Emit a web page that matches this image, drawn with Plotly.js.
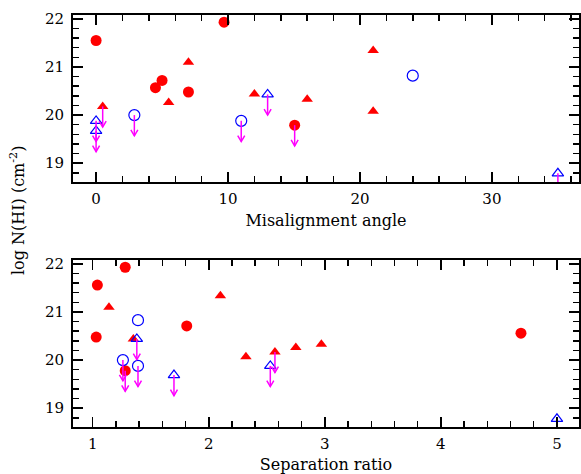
<!DOCTYPE html>
<html>
<head>
<meta charset="utf-8">
<script src="https://cdn.plot.ly/plotly-3.0.1.min.js"></script>
<style>html,body{margin:0;padding:0;background:#fff;}#chart{width:581px;height:474px;}</style>
</head>
<body>
<div id="chart"></div>
<script>
// ---- Top panel: Misalignment angle ----
const angRedCircX = [0, 4.5, 5.0, 7.0, 9.7, 15.05];
const angRedCircY = [21.55, 20.57, 20.72, 20.48, 21.93, 19.79];
const angRedCircLim = [0, 0, 0, 0, 0, 1];
const angRedTriX = [0.5, 5.5, 7.0, 12.0, 16.0, 21.0, 21.0];
const angRedTriY = [20.18, 20.26, 21.1, 20.44, 20.33, 21.34, 20.08];
const angRedTriLim = [1, 0, 0, 0, 0, 0, 0];
const angBlueCircX = [2.9, 11.0, 24.0];
const angBlueCircY = [20.0, 19.88, 20.82];
const angBlueCircLim = [1, 1, 0];
const angBlueTriX = [0, 0, 13.0, 35.0];
const angBlueTriY = [19.88, 19.67, 20.43, 18.79];
const angBlueTriLim = [1, 1, 1, 1];

// ---- Bottom panel: Separation ratio ----
const sepRedCircX = [1.04, 1.28, 1.03, 1.81, 1.28, 4.69];
const sepRedCircY = [21.56, 21.93, 20.48, 20.71, 19.78, 20.56];
const sepRedCircLim = [0, 0, 0, 0, 1, 0];
const sepRedTriX = [1.14, 1.35, 2.10, 2.32, 2.57, 2.75, 2.97];
const sepRedTriY = [21.1, 20.44, 21.34, 20.07, 20.17, 20.26, 20.33];
const sepRedTriLim = [0, 0, 0, 0, 1, 0, 0];
const sepBlueCircX = [1.26, 1.39, 1.39];
const sepBlueCircY = [20.0, 20.83, 19.88];
const sepBlueCircLim = [1, 0, 1];
const sepBlueTriX = [1.38, 1.70, 2.53, 5.0];
const sepBlueTriY = [20.44, 19.69, 19.88, 18.78];
const sepBlueTriLim = [1, 1, 1, 1];

const xTitleTop = 'Misalignment angle';
const xTitleBot = 'Separation ratio';
const yTitle = 'log N(HI) (cm<sup>-2</sup>)';

const FONT = 'DejaVu Serif';
const RED = '#ff0000', BLUE = '#0000ff', MAG = '#ff00ff';

// geometry
const W = 581, H = 474;
const M = {l: 73, r: 2, t: 15, b: 47};
const plotW = W - M.l - M.r, plotH = H - M.t - M.b;
const xRangeTop = [-1.75, 36.6];
const xRangeBot = [0.83, 5.19];
const yRange = [18.61, 22.08];
const domTop = [0.5947, 1];
const domBot = [0, 0.4053];

function pxPerUnitX(r) { return plotW / (r[1] - r[0]); }
function pxPerUnitY(r, d) { return plotH * (d[1] - d[0]) / (r[1] - r[0]); }

const ARROW_LEN = 0.43; // dex
function arrowTrace(groups, xr, xa, ya) {
  const sx = pxPerUnitX(xr), sy = pxPerUnitY(yRange, domTop);
  const hw = 3.5 / sx, hh = 6 / sy;
  const X = [], Y = [];
  groups.forEach(g => {
    g.x.forEach((x, i) => {
      if (!g.lim[i]) return;
      const y0 = g.y[i], y1 = y0 - ARROW_LEN;
      X.push(x, x, null, x - hw, x, x + hw, null);
      Y.push(y0, y1, null, y1 + hh, y1, y1 + hh, null);
    });
  });
  return {x: X, y: Y, xaxis: xa, yaxis: ya, mode: 'lines', type: 'scatter',
    line: {color: MAG, width: 1.5}, hoverinfo: 'skip', showlegend: false};
}

function markers(x, y, xa, ya, symbol, color, size, lw) {
  return {x: x, y: y, xaxis: xa, yaxis: ya, mode: 'markers', type: 'scatter',
    marker: {symbol: symbol, color: color, size: size, line: {color: color, width: lw}},
    showlegend: false, cliponaxis: false};
}

const traces = [
  markers(angRedCircX, angRedCircY, 'x', 'y', 'circle', RED, 11, 0),
  markers(angRedTriX, angRedTriY, 'x', 'y', 'triangle-up', RED, 10, 0),
  markers(angBlueCircX, angBlueCircY, 'x', 'y', 'circle-open', BLUE, 11, 1.2),
  markers(angBlueTriX, angBlueTriY, 'x', 'y', 'triangle-up-open', BLUE, 10, 1.2),
  arrowTrace([
    {x: angRedCircX, y: angRedCircY, lim: angRedCircLim},
    {x: angRedTriX, y: angRedTriY, lim: angRedTriLim},
    {x: angBlueCircX, y: angBlueCircY, lim: angBlueCircLim},
    {x: angBlueTriX, y: angBlueTriY, lim: angBlueTriLim}
  ], xRangeTop, 'x', 'y'),
  markers(sepRedCircX, sepRedCircY, 'x2', 'y2', 'circle', RED, 11, 0),
  markers(sepRedTriX, sepRedTriY, 'x2', 'y2', 'triangle-up', RED, 10, 0),
  markers(sepBlueCircX, sepBlueCircY, 'x2', 'y2', 'circle-open', BLUE, 11, 1.2),
  markers(sepBlueTriX, sepBlueTriY, 'x2', 'y2', 'triangle-up-open', BLUE, 10, 1.2),
  arrowTrace([
    {x: sepRedCircX, y: sepRedCircY, lim: sepRedCircLim},
    {x: sepRedTriX, y: sepRedTriY, lim: sepRedTriLim},
    {x: sepBlueCircX, y: sepBlueCircY, lim: sepBlueCircLim},
    {x: sepBlueTriX, y: sepBlueTriY, lim: sepBlueTriLim}
  ], xRangeBot, 'x2', 'y2')
];

const axBase = {
  showgrid: false, zeroline: false, showline: true, linecolor: '#000', linewidth: 2,
  mirror: 'allticks', ticks: 'inside', ticklen: 10, tickwidth: 1.5, tickcolor: '#000',
  tickfont: {family: FONT, size: 15, color: '#000'}, fixedrange: true
};

function xAxis(range, dtick, minorDtick, anchor, title) {
  return Object.assign({}, axBase, {
    range: range, dtick: dtick, tick0: 0, anchor: anchor,
    minor: {dtick: minorDtick, ticks: 'inside', ticklen: 6, tickwidth: 1.5, tickcolor: '#000'},
    title: {text: title, font: {family: FONT, size: 16, color: '#000'}, standoff: 8},
    ticklabelstandoff: 2
  });
}
function yAxis(domain, anchor) {
  return Object.assign({}, axBase, {
    range: yRange, dtick: 1, tick0: 0, domain: domain, anchor: anchor,
    minor: {dtick: 0.2, ticks: 'inside', ticklen: 6, tickwidth: 1.5, tickcolor: '#000'},
    ticklabelstandoff: 4
  });
}

const layout = {
  width: W, height: H, margin: M,
  paper_bgcolor: '#fff', plot_bgcolor: '#fff',
  showlegend: false,
  xaxis: xAxis(xRangeTop, 10, 2, 'y', xTitleTop),
  yaxis: yAxis(domTop, 'x'),
  xaxis2: xAxis(xRangeBot, 1, 0.2, 'y2', xTitleBot),
  yaxis2: yAxis(domBot, 'x2'),
  annotations: [{
    text: yTitle, textangle: -90, xref: 'paper', yref: 'paper',
    x: (17 - M.l) / plotW, y: (M.t + plotH - 211) / plotH,
    xanchor: 'center', yanchor: 'middle', showarrow: false,
    font: {family: FONT, size: 16, color: '#000'}
  }]
};

Plotly.newPlot('chart', traces, layout, {staticPlot: true, displayModeBar: false});
</script>
</body>
</html>
